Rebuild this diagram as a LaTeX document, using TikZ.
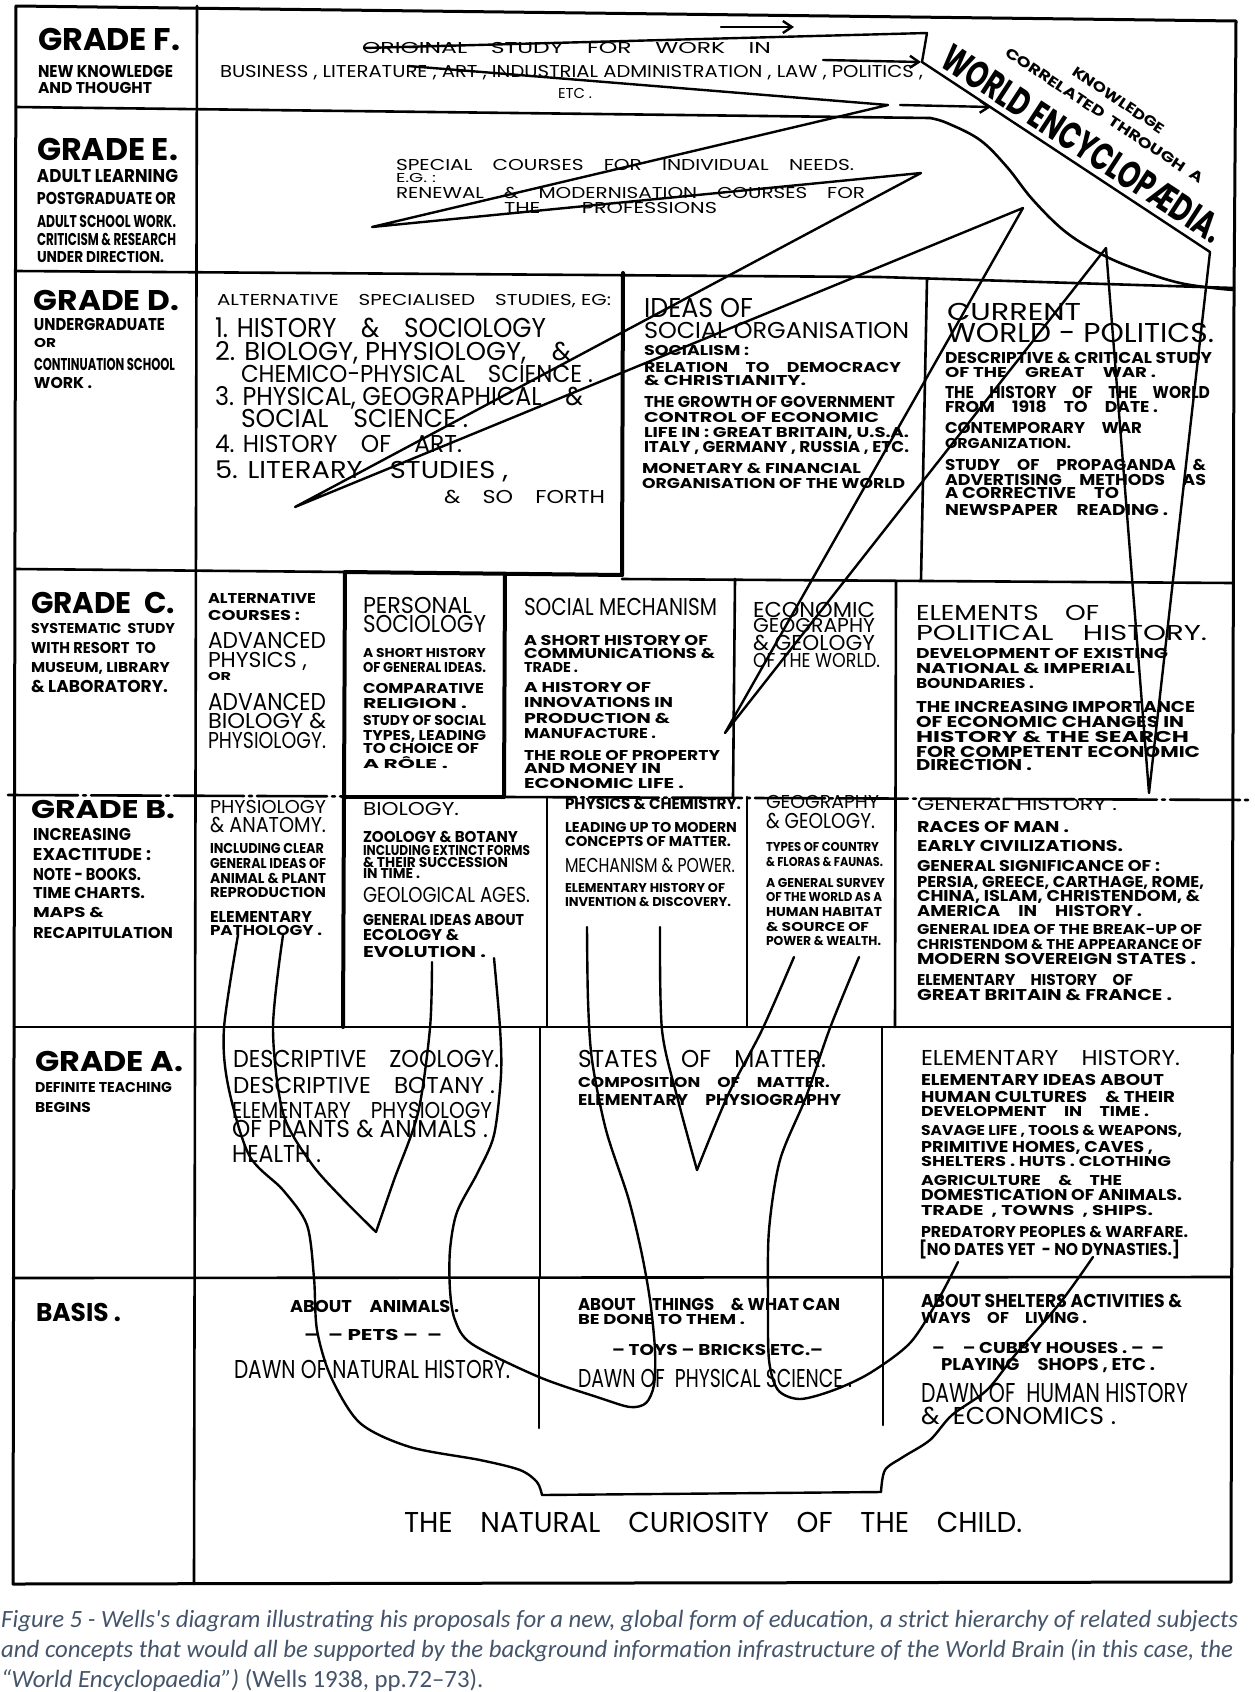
\documentclass[tikz,border=0pt]{standalone}
\usepackage{fontspec}
\usepackage{graphicx}
\setmainfont{Poppins}
\newfontfamily\capfont{Carlito}
\usetikzlibrary{arrows.meta}
\definecolor{capc}{HTML}{44546A}
\newcounter{tn}
\tikzset{
  txt/.style={anchor=base west, inner sep=0pt, outer sep=0pt},
  frame/.style={line width=3pt, line cap=round, line join=round},
  grid/.style={line width=2.6pt, line cap=round},
  heavy/.style={line width=4pt, line cap=round},
  tree/.style={line width=2.4pt, line cap=round, line join=round},
  arr/.style={tree, -{Straight Barb[length=9pt,width=12pt]}},
  captxt/.style={anchor=base west, inner sep=0pt, text=capc, font=\capfont\fontsize{24.8}{30}\selectfont}
}
\newcommand\T[5]{\stepcounter{tn}\node[txt] (t\arabic{tn}) at (#1,#2) {\resizebox{#3pt}{#4pt}{\vphantom{H}\smash{#5}}};}
\newcommand\TB[5]{\stepcounter{tn}\node[txt] (t\arabic{tn}) at (#1,#2) {\resizebox{#3pt}{#4pt}{\bfseries\vphantom{H}\smash{#5}}};}
\begin{document}
\begin{tikzpicture}[x=1pt,y=-1pt]
\fill[white] (0,0) rectangle (1254,1692);
\useasboundingbox (0,0) rectangle (1254,1692);

% ---------- frame and grid ----------
\draw[frame] (16,6) -- (1236,21) -- (1234,300) -- (1231,1582) -- (13,1584) -- cycle;
\draw[grid] (197,6) -- (194,1584);
\draw[grid] (16,107) -- (930,118);
\draw[grid] plot[smooth, tension=0.6] coordinates {(930,118) (947,123) (980,140) (1007,167) (1033,200) (1067,233) (1107,257) (1147,273) (1180,283) (1213,288) (1234,290)};
\draw[grid] (16,271) -- (880,277) -- (1234,288);
\draw[heavy] (623,273) -- (622,575);
\draw[grid] (927,279) -- (921,580);
\draw[grid] (16,569) -- (345,572);
\draw[heavy] (345,572) -- (622,575);
\draw[grid] (622,579) -- (1233,583);
\draw[heavy] (345,572) -- (343,1027);
\draw[heavy] (505,574) -- (504,797);
\draw[grid] (735,579) -- (733,797);
\draw[grid] (896,581) -- (895,1027);
\draw[grid, dash pattern=on 70pt off 5pt on 3pt off 5pt] (8,795) -- (1252,800);
\draw[heavy] (343,797) -- (504,797);
\draw[grid] (547,797) -- (547,1027);
\draw[grid] (747,797) -- (747,1027);
\draw[grid] (14,1027) -- (1232,1027);
\draw[grid] (540,1027) -- (540,1278);
\draw[grid] (882,1027) -- (882,1278);
\draw[grid] (13,1278) -- (1232,1277);
\draw[grid] (539,1278) -- (539,1428);
\draw[grid] (883,1278) -- (883,1425);

% ---------- upper zig-zag of lines and banner ----------
\draw[tree] (364,48) -- (927,33) -- (922,62) -- (1210,252) -- (1149,793) -- (1106,248) -- (725,733) -- (1023,208) -- (295,507) -- (921,173) -- (372,227) -- (888,105) -- (408,66);
\draw[arr] (721,27) -- (794,27);
\draw[arr] (823,60) -- (921,62);
\draw[arr] (900,105) -- (991,107);
\node[txt, rotate=-33.2] (wenc) at (938,65) {\resizebox{328pt}{27pt}{\bfseries\vphantom{H}\smash{WORLD ENCYCLOPÆDIA.}}};
\node[txt, rotate=-33.5] (corr) at (1004,55) {\resizebox{234pt}{10pt}{\bfseries\vphantom{H}\smash{CORRELATED\ \ THROUGH\ \ A}}};
\node[txt, rotate=-34] (know) at (1071,74) {\resizebox{108pt}{10pt}{\bfseries\vphantom{H}\smash{KNOWLEDGE}}};

% ---------- lower tree ----------
\draw[tree] plot[smooth] coordinates {(238,935) (224,1028) (228,1085) (249,1155) (283,1190) (307,1225) (314,1278) (317,1330) (331,1377) (360,1423) (410,1447) (480,1460) (520,1470) (537,1482) (542,1495)} -- (881,1492) -- plot[smooth] coordinates {(881,1492) (885,1470) (903,1457) (930,1440) (952,1415) (987,1390) (1015,1355) (1060,1303) (1093,1257)};
\draw[tree] plot[smooth] coordinates {(283,935) (273,1028) (283,1113) (311,1163) (342,1198) (376,1232)};
\draw[tree] plot[smooth] coordinates {(376,1232) (394,1180) (418,1113) (430,1028) (432,962)};
\draw[tree] plot[smooth] coordinates {(494,958) (500,1028) (501,1075) (494,1135) (478,1172) (457,1212) (450,1250) (450,1290) (455,1320) (472,1344) (539,1377) (600,1398) (630,1407) (646,1403) (654,1385) (655,1350) (650,1300) (641,1250) (628,1197) (606,1130) (592,1060) (588,1000) (587,927)};
\draw[tree] plot[smooth] coordinates {(660,927) (662,1030) (678,1100) (697,1170)};
\draw[tree] plot[smooth] coordinates {(697,1170) (728,1095) (762,1030) (794,957)};
\draw[tree] plot[smooth] coordinates {(859,957) (830,1028) (806,1097) (780,1160) (769,1230) (768,1300) (769,1360) (778,1390) (800,1399) (834,1390) (870,1373) (910,1343) (938,1300) (958,1262)};

% ---------- Grade F ----------
\TB{38}{50}{142}{22}{GRADE F.}
\TB{38}{77}{135}{12}{NEW KNOWLEDGE}
\TB{38}{93}{114}{11}{AND THOUGHT}
\T{362}{53}{409}{11}{ORIGINAL\quad STUDY\quad FOR\quad WORK\quad IN}
\T{220}{77}{703}{12}{BUSINESS , LITERATURE , ART , INDUSTRIAL ADMINISTRATION , LAW , POLITICS ,}
\T{558}{98}{34}{10}{ETC .}
% ---------- Grade E ----------
\TB{37}{160}{141}{22}{GRADE E.}
\TB{37}{182}{141}{13}{ADULT LEARNING}
\TB{37}{204}{139}{12}{POSTGRADUATE OR}
\TB{37}{227}{139}{12}{ADULT SCHOOL WORK.}
\TB{37}{245}{139}{12}{CRITICISM \& RESEARCH}
\TB{37}{262}{127}{11}{UNDER DIRECTION.}
\T{396}{170}{458}{11}{SPECIAL\quad COURSES\quad FOR\quad INDIVIDUAL\quad NEEDS.}
\T{396}{182}{40}{9}{E.G. :}
\T{396}{198}{469}{11}{RENEWAL\quad \&\quad MODERNISATION\quad COURSES\quad FOR}
\T{504}{213}{213}{11}{THE\qquad PROFESSIONS}
% ---------- Grade D ----------
\TB{34}{310}{145}{20}{GRADE D.}
\TB{34}{330}{131}{12}{UNDERGRADUATE}
\TB{34}{347}{22}{9}{OR}
\TB{34}{370}{141}{12}{CONTINUATION SCHOOL}
\TB{34}{388}{58}{11}{WORK .}
\T{217}{305}{394}{11}{ALTERNATIVE\quad SPECIALISED\quad STUDIES, EG:}
\T{215}{337}{331}{19}{1. HISTORY\quad \&\quad SOCIOLOGY}
\T{215}{360}{356}{18}{2. BIOLOGY, PHYSIOLOGY,\quad \&}
\T{241}{382}{352}{17}{CHEMICO-PHYSICAL\quad SCIENCE .}
\T{215}{405}{368}{18}{3. PHYSICAL, GEOGRAPHICAL\quad \&}
\T{241}{427}{227}{18}{SOCIAL\quad SCIENCE .}
\T{215}{452}{247}{17}{4. HISTORY\quad OF\quad ART.}
\T{215}{478}{293}{17}{5. LITERARY\quad STUDIES ,}
\T{444}{503}{161}{13}{\&\quad SO\quad FORTH}
\T{644}{317}{109}{19}{IDEAS OF}
\T{644}{338}{265}{16}{SOCIAL ORGANISATION}
\TB{644}{355}{105}{10}{SOCIALISM :}
\TB{644}{372}{257}{10}{RELATION\quad TO\quad DEMOCRACY}
\TB{644}{385}{162}{10}{\& CHRISTIANITY.}
\TB{644}{407}{251}{11}{THE GROWTH OF GOVERNMENT}
\TB{644}{422}{235}{10}{CONTROL OF ECONOMIC}
\TB{644}{437}{265}{10}{LIFE IN : GREAT BRITAIN, U.S.A.}
\TB{644}{452}{265}{11}{ITALY , GERMANY , RUSSIA , ETC.}
\TB{642}{473}{219}{10}{MONETARY \& FINANCIAL}
\TB{642}{488}{263}{10}{ORGANISATION OF THE WORLD}
\T{947}{320}{134}{17}{CURRENT}
\T{947}{342}{267}{19}{WORLD - POLITICS.}
\TB{945}{363}{267}{11}{DESCRIPTIVE \& CRITICAL STUDY}
\TB{945}{377}{211}{10}{OF THE\quad GREAT\quad WAR .}
\TB{945}{398}{265}{12}{THE\quad HISTORY\quad OF\quad THE\quad WORLD}
\TB{945}{412}{213}{11}{FROM\quad 1918\quad TO\quad DATE .}
\TB{945}{433}{197}{11}{CONTEMPORARY\quad WAR}
\TB{945}{448}{126}{10}{ORGANIZATION.}
\TB{945}{470}{261}{11}{STUDY\quad OF\quad PROPAGANDA\quad \&}
\TB{945}{485}{261}{11}{ADVERTISING\quad METHODS\quad AS}
\TB{945}{498}{174}{11}{A CORRECTIVE\quad TO}
\TB{945}{515}{223}{11}{NEWSPAPER\quad READING .}
% ---------- Grade C ----------
\TB{31}{613}{144}{21}{GRADE\ \ C.}
\TB{31}{633}{144}{10}{SYSTEMATIC\ \ STUDY}
\TB{31}{653}{125}{11}{WITH RESORT\ \ TO}
\TB{31}{672}{139}{10}{MUSEUM, LIBRARY}
\TB{31}{692}{137}{12}{\& LABORATORY.}
\TB{208}{603}{108}{10}{ALTERNATIVE}
\TB{208}{620}{92}{10}{COURSES :}
\T{208}{648}{118}{16}{ADVANCED}
\T{208}{667}{99}{15}{PHYSICS ,}
\TB{208}{680}{23}{8}{OR}
\T{208}{710}{118}{17}{ADVANCED}
\T{208}{728}{118}{15}{BIOLOGY \&}
\T{208}{748}{118}{16}{PHYSIOLOGY.}
\T{363}{613}{109}{16}{PERSONAL}
\T{363}{632}{123}{17}{SOCIOLOGY}
\TB{363}{657}{123}{9}{A SHORT HISTORY}
\TB{363}{672}{123}{10}{OF GENERAL IDEAS.}
\TB{363}{693}{121}{10}{COMPARATIVE}
\TB{363}{708}{104}{10}{RELIGION .}
\TB{363}{725}{123}{10}{STUDY OF SOCIAL}
\TB{363}{740}{123}{10}{TYPES, LEADING}
\TB{363}{753}{116}{10}{TO CHOICE OF}
\TB{363}{768}{85}{9}{A RÔLE .}
\T{524}{615}{193}{17}{SOCIAL MECHANISM}
\TB{524}{645}{184}{10}{A SHORT HISTORY OF}
\TB{524}{658}{191}{10}{COMMUNICATIONS \&}
\TB{524}{672}{54}{10}{TRADE .}
\TB{524}{692}{127}{10}{A HISTORY OF}
\TB{524}{707}{149}{10}{INNOVATIONS IN}
\TB{524}{723}{146}{10}{PRODUCTION \&}
\TB{524}{738}{132}{10}{MANUFACTURE .}
\TB{524}{760}{196}{10}{THE ROLE OF PROPERTY}
\TB{524}{773}{137}{10}{AND MONEY IN}
\TB{524}{788}{160}{10}{ECONOMIC LIFE .}
\T{753}{617}{122}{15}{ECONOMIC}
\T{753}{632}{122}{14}{GEOGRAPHY}
\T{753}{650}{122}{15}{\& GEOLOGY}
\T{753}{667}{127}{14}{OF THE WORLD.}
\T{916}{620}{183}{15}{ELEMENTS\quad OF}
\T{916}{640}{291}{15}{POLITICAL\quad HISTORY.}
\TB{916}{658}{252}{10}{DEVELOPMENT OF EXISTING}
\TB{916}{673}{219}{10}{NATIONAL \& IMPERIAL}
\TB{916}{688}{118}{10}{BOUNDARIES .}
\TB{916}{712}{279}{11}{THE INCREASING IMPORTANCE}
\TB{916}{727}{268}{11}{OF ECONOMIC CHANGES IN}
\TB{916}{742}{273}{11}{HISTORY \& THE SEARCH}
\TB{916}{757}{284}{11}{FOR COMPETENT ECONOMIC}
\TB{916}{770}{116}{11}{DIRECTION .}
% ---------- Grade B ----------
\TB{31}{818}{144}{18}{GRADE B.}
\TB{33}{840}{98}{12}{INCREASING}
\TB{33}{860}{118}{12}{EXACTITUDE :}
\TB{33}{880}{108}{12}{NOTE - BOOKS.}
\TB{33}{898}{112}{11}{TIME CHARTS.}
\TB{33}{917}{71}{10}{MAPS \&}
\TB{33}{938}{140}{11}{RECAPITULATION}
\T{210}{813}{116}{13}{PHYSIOLOGY}
\T{210}{832}{116}{15}{\& ANATOMY.}
\TB{210}{853}{114}{10}{INCLUDING CLEAR}
\TB{210}{868}{116}{10}{GENERAL IDEAS OF}
\TB{210}{883}{116}{10}{ANIMAL \& PLANT}
\TB{210}{897}{116}{10}{REPRODUCTION}
\TB{210}{922}{102}{11}{ELEMENTARY}
\TB{210}{935}{112}{10}{PATHOLOGY .}
\T{363}{815}{96}{13}{BIOLOGY.}
\TB{363}{842}{155}{11}{ZOOLOGY \& BOTANY}
\TB{363}{855}{167}{10}{INCLUDING EXTINCT FORMS}
\TB{363}{867}{145}{10}{\& THEIR SUCCESSION}
\TB{363}{878}{57}{10}{IN TIME .}
\T{363}{902}{167}{15}{GEOLOGICAL AGES.}
\TB{363}{925}{161}{11}{GENERAL IDEAS ABOUT}
\TB{363}{940}{96}{11}{ECOLOGY \&}
\TB{363}{957}{123}{11}{EVOLUTION .}
\TB{565}{809}{176}{11}{PHYSICS \& CHEMISTRY.}
\TB{565}{832}{172}{10}{LEADING UP TO MODERN}
\TB{565}{846}{166}{10}{CONCEPTS OF MATTER.}
\T{565}{872}{170}{14}{MECHANISM \& POWER.}
\TB{565}{892}{160}{9}{ELEMENTARY HISTORY OF}
\TB{565}{906}{166}{9}{INVENTION \& DISCOVERY.}
\T{766}{808}{113}{13}{GEOGRAPHY}
\T{766}{828}{109}{15}{\& GEOLOGY.}
\TB{766}{851}{113}{9}{TYPES OF COUNTRY}
\TB{766}{866}{117}{9}{\& FLORAS \& FAUNAS.}
\TB{766}{887}{119}{9}{A GENERAL SURVEY}
\TB{766}{901}{116}{9}{OF THE WORLD AS A}
\TB{766}{916}{116}{9}{HUMAN HABITAT}
\TB{766}{931}{103}{9}{\& SOURCE OF}
\TB{766}{945}{115}{9}{POWER \& WEALTH.}
\T{917}{810}{200}{12}{GENERAL HISTORY .}
\TB{917}{832}{152}{11}{RACES OF MAN .}
\TB{917}{851}{206}{11}{EARLY CIVILIZATIONS.}
\TB{917}{871}{243}{11}{GENERAL SIGNIFICANCE OF :}
\TB{917}{887}{287}{11}{PERSIA, GREECE, CARTHAGE, ROME,}
\TB{917}{901}{283}{11}{CHINA, ISLAM, CHRISTENDOM, \&}
\TB{917}{916}{225}{11}{AMERICA\quad IN\quad HISTORY .}
\TB{917}{934}{285}{10}{GENERAL IDEA OF THE BREAK-UP OF}
\TB{917}{949}{285}{10}{CHRISTENDOM \& THE APPEARANCE OF}
\TB{917}{964}{279}{11}{MODERN SOVEREIGN STATES .}
\TB{917}{985}{216}{11}{ELEMENTARY\quad HISTORY\quad OF}
\TB{917}{1000}{255}{11}{GREAT BRITAIN \& FRANCE .}
% ---------- Grade A ----------
\TB{35}{1071}{148}{20}{GRADE A.}
\TB{35}{1092}{137}{10}{DEFINITE TEACHING}
\TB{35}{1112}{56}{10}{BEGINS}
\T{233}{1067}{266}{17}{DESCRIPTIVE\quad ZOOLOGY.}
\T{233}{1093}{262}{16}{DESCRIPTIVE\quad BOTANY .}
\T{232}{1118}{260}{16}{ELEMENTARY\quad PHYSIOLOGY}
\T{232}{1137}{256}{17}{OF PLANTS \& ANIMALS .}
\T{232}{1162}{89}{17}{HEALTH .}
\T{578}{1067}{248}{17}{STATES\quad OF\quad MATTER.}
\TB{578}{1087}{252}{10}{COMPOSITION\quad OF\quad MATTER.}
\TB{578}{1105}{263}{11}{ELEMENTARY\quad PHYSIOGRAPHY}
\T{921}{1065}{259}{15}{ELEMENTARY\quad HISTORY.}
\TB{921}{1085}{243}{11}{ELEMENTARY IDEAS ABOUT}
\TB{921}{1102}{254}{11}{HUMAN CULTURES\quad \& THEIR}
\TB{921}{1116}{228}{10}{DEVELOPMENT\quad IN\quad TIME .}
\TB{921}{1135}{261}{10}{SAVAGE LIFE , TOOLS \& WEAPONS,}
\TB{921}{1152}{232}{11}{PRIMITIVE HOMES, CAVES ,}
\TB{921}{1166}{250}{10}{SHELTERS . HUTS . CLOTHING}
\TB{921}{1185}{201}{10}{AGRICULTURE\quad \&\quad THE}
\TB{921}{1200}{261}{11}{DOMESTICATION OF ANIMALS.}
\TB{921}{1215}{232}{10}{TRADE\ \ ,\ TOWNS\ \ ,\ SHIPS.}
\TB{921}{1237}{267}{11}{PREDATORY PEOPLES \& WARFARE.}
\TB{919}{1255}{261}{12}{[NO DATES YET\ \ - NO DYNASTIES.]}
% ---------- Basis ----------
\TB{36}{1321}{85}{18}{BASIS .}
\TB{290}{1312}{169}{12}{ABOUT\quad ANIMALS .}
\TB{304}{1340}{138}{11}{--\ \ -- PETS --\ \ --}
\T{234}{1378}{276}{18}{DAWN OF NATURAL HISTORY.}
\TB{578}{1310}{262}{12}{ABOUT\quad THINGS\quad \&\ WHAT CAN}
\TB{578}{1324}{167}{10}{BE DONE TO THEM .}
\TB{612}{1355}{211}{11}{-- TOYS -- BRICKS\ ETC.--}
\T{578}{1387}{274}{18}{DAWN OF\ \ PHYSICAL\ SCIENCE .}
\TB{921}{1307}{261}{13}{ABOUT SHELTERS\ ACTIVITIES \&}
\TB{921}{1323}{166}{11}{WAYS\quad OF\quad LIVING .}
\TB{932}{1353}{232}{11}{--\quad -- CUBBY HOUSES . --\ \ --}
\TB{941}{1370}{214}{12}{PLAYING\quad SHOPS , ETC .}
\T{921}{1402}{267}{19}{DAWN OF\ \ HUMAN HISTORY}
\T{921}{1424}{195}{17}{\&\ \ ECONOMICS .}
\T{404}{1532}{618}{20}{THE\quad NATURAL\quad CURIOSITY\quad OF\quad THE\quad CHILD.}

% ---------- caption ----------
\node[captxt] (cap1) at (1,1627) {\itshape Figure 5 - Wells's diagram illustrating his proposals for a new, global form of education, a strict hierarchy of related subjects};
\node[captxt] (cap2) at (1,1657) {\itshape and concepts that would all be supported by the background information infrastructure of the World Brain (in this case, the};
\node[captxt] (cap3) at (1,1687) {{\itshape “World Encyclopaedia”)} (Wells 1938, pp.72–73).};
\end{tikzpicture}
\end{document}
